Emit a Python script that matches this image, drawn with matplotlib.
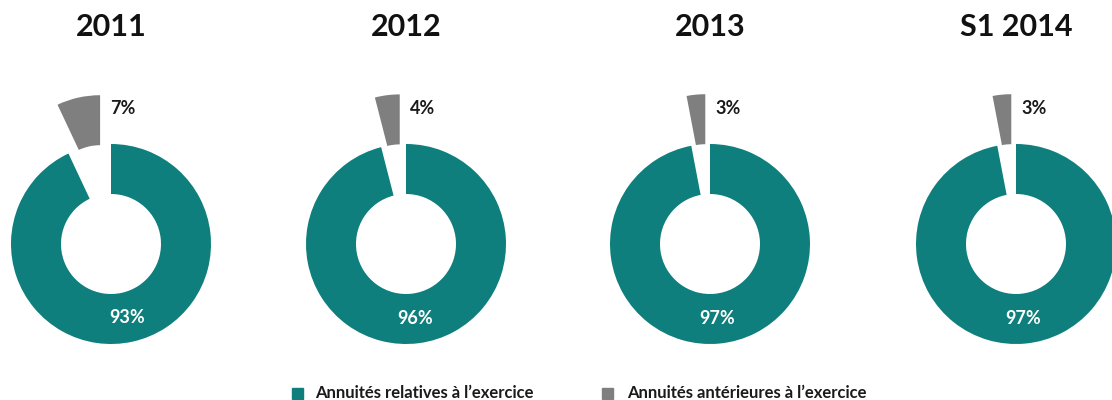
import numpy as np
import matplotlib.pyplot as plt
from matplotlib.patches import Rectangle

plt.rcParams['font.family'] = ['Lato', 'DejaVu Sans']

periods = ["2011", "2012", "2013", "S1 2014"]
current_pct = [93, 96, 97, 97]    # Annuités relatives à l'exercice
previous_pct = [7, 4, 3, 3]       # Annuités antérieures à l'exercice
legend_labels = ["Annuités relatives à l\u2019exercice",
                 "Annuités antérieures à l\u2019exercice"]

teal = "#0E7F7C"
grey = "#7F7F7F"

W, H = 1112, 400
fig = plt.figure(figsize=(W / 100, H / 100), dpi=100)

centers_x = [111, 406, 710, 1016]
center_y = H - 244
radius_px = 100
explode = 0.5

for i, period in enumerate(periods):
    cx = centers_x[i]
    ax = fig.add_axes([(cx - 1.2 * radius_px) / W, (center_y - 1.2 * radius_px) / H,
                       2.4 * radius_px / W, 3.2 * radius_px / H])
    vals = [current_pct[i], previous_pct[i]]
    ax.pie(vals, colors=[teal, grey], startangle=90, counterclock=False,
           explode=[0, explode], radius=1.0,
           wedgeprops=dict(width=0.5, linewidth=0))
    ax.set_xlim(-1.2, 1.2)
    ax.set_ylim(-1.2, 2.0)
    ax.set_aspect('equal')
    ax.axis('off')

    # teal label at the middle of its wedge
    share = current_pct[i] / 100
    mid = np.deg2rad(90 - 180 * share)
    ax.text(0.75 * np.cos(mid), 0.75 * np.sin(mid), f"{current_pct[i]}%",
            color="white", fontsize=13, fontweight="bold", ha="center", va="center")

    # grey label to the right of the exploded piece
    g_mid = np.deg2rad(90 + 180 * previous_pct[i] / 100)
    edge_x = explode * np.cos(g_mid)
    ax.text(edge_x + 0.1, 1.36, f"{previous_pct[i]}%", color="#1a1a1a",
            fontsize=13, fontweight="bold", ha="left", va="center")

    fig.text(cx / W, 1 - 27 / H, period, fontsize=22, fontweight="bold",
             ha="center", va="center", color="#111111")

# legend
legend_y = 1 - 393 / H
for (sx, tx), lab, col in zip([(292, 315), (602, 627)], legend_labels, [teal, grey]):
    fig.patches.append(Rectangle((sx / W, legend_y - 5.5 / H), 11 / W, 11 / H,
                                 transform=fig.transFigure, color=col))
    fig.text(tx / W, legend_y, lab, fontsize=12, fontweight="bold",
             ha="left", va="center", color="#1a1a1a")

fig.savefig("out.png", dpi=100)
